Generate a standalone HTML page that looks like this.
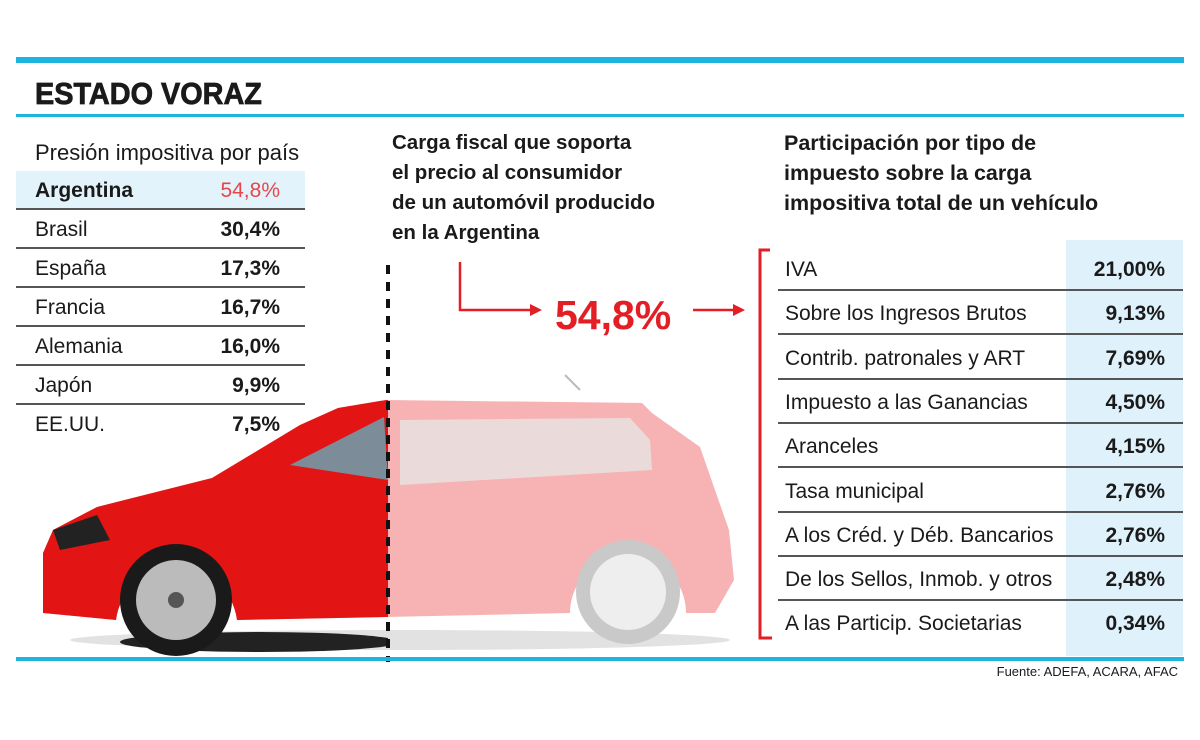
<!DOCTYPE html>
<html><head><meta charset="utf-8">
<style>
html,body{margin:0;padding:0;background:#fff;}
body{width:1200px;height:740px;position:relative;overflow:hidden;font-family:"Liberation Sans",sans-serif;color:#1a1a1a;}
.abs{position:absolute;}
.row{position:absolute;left:16px;width:289px;height:39px;border-bottom:2px solid #555;box-sizing:border-box;font-size:21px;}
.row .lab{position:absolute;left:19px;top:8px;}
.row .val{position:absolute;right:25px;top:8px;font-weight:bold;}
.rrow{position:absolute;left:778px;width:405px;height:44px;box-sizing:border-box;font-size:21px;}
.rrow .lab{position:absolute;left:7px;top:11px;white-space:nowrap;}
.rrow .val{position:absolute;right:18px;top:11px;font-weight:bold;}
.mid{font-weight:bold;font-size:20.5px;line-height:30px;}
</style></head><body>
<div class="abs" style="left:16px;top:57px;width:1168px;height:6px;background:#1cb4e0"></div>
<div class="abs" style="left:35px;top:76px;font-size:31px;font-weight:bold;transform:scaleX(0.93);transform-origin:left;-webkit-text-stroke:0.8px #1a1a1a">ESTADO VORAZ</div>
<div class="abs" style="left:16px;top:114px;width:1168px;height:3px;background:#1cb4e0"></div>

<div class="abs" style="left:35px;top:140px;font-size:22px">Presión impositiva por país</div>
<div id="lt"></div>

<svg class="abs" style="left:0;top:0" width="1200" height="740">
 <defs>
  <clipPath id="cl"><rect x="0" y="0" width="388" height="740"/></clipPath>
  <path id="body" d="M43,613 L43,553 L53,530 L97,507 L212,478 L300,425 L338,408 L386,400 L642,403 L652,413 L700,447 L715,490 L729,530 L734,580 L715,613 L686,613 A58,58 0 0 0 570,613 L386,617 L237,620 A61,61 0 0 0 116,620 Z"/>
 </defs>
 <ellipse cx="400" cy="640" rx="330" ry="10" fill="#e2e2e2"/>
 <ellipse cx="260" cy="642" rx="140" ry="10" fill="#222" clip-path="url(#cl)"/>
 <use href="#body" fill="#f7b3b3"/>
 <path d="M400,420 L630,418 L650,440 L652,470 L400,485 Z" fill="#ebdada"/>
 <line x1="580" y1="390" x2="565" y2="375" stroke="#bbb" stroke-width="2"/>
 <circle cx="628" cy="592" r="52" fill="#c9c9c9"/><circle cx="628" cy="592" r="38" fill="#eee"/>
 <g clip-path="url(#cl)">
  <use href="#body" fill="#e31414"/>
  <path d="M290,465 L384,417 L388,480 Z" fill="#7c8d99"/>
  <path d="M53,530 L97,515 L110,540 L60,550 Z" fill="#222"/>
 </g>
 <circle cx="176" cy="600" r="56" fill="#1a1a1a"/><circle cx="176" cy="600" r="40" fill="#bbb"/><circle cx="176" cy="600" r="8" fill="#555"/>
 <line x1="388" y1="265" x2="388" y2="662" stroke="#111" stroke-width="4" stroke-dasharray="9,8"/>
 <path d="M460,262 L460,310 L535,310" fill="none" stroke="#e31e24" stroke-width="2.5"/>
 <path d="M530,304 L542,310 L530,316 Z" fill="#e31e24"/>
 <path d="M693,310 L738,310" stroke="#e31e24" stroke-width="2.5"/>
 <path d="M733,304 L745,310 L733,316 Z" fill="#e31e24"/>
 <path d="M770,250 L760,250 L760,638 L772,638" fill="none" stroke="#e31e24" stroke-width="3"/>
</svg>

<div class="abs mid" style="left:392px;top:128px">Carga fiscal que soporta<br>el precio al consumidor<br>de un automóvil producido<br>en la Argentina</div>
<div class="abs" style="left:555px;top:292px;font-size:41px;font-weight:bold;color:#e31e24">54,8%</div>

<div class="abs mid" style="left:784px;top:128px;font-size:21.5px">Participación por tipo de<br>impuesto sobre la carga<br>impositiva total de un vehículo</div>
<div class="abs" style="left:1066px;top:240px;width:117px;height:416px;background:#dff1fa"></div>
<div id="rt"></div>

<div class="abs" style="left:16px;top:657px;width:1168px;height:4px;background:#1cb4e0"></div>
<div class="abs" style="right:22px;top:664px;font-size:13px">Fuente: ADEFA, ACARA, AFAC</div>

<script>
const countries=["Argentina","Brasil","España","Francia","Alemania","Japón","EE.UU."];
const countryValues=[54.8,30.4,17.3,16.7,16.0,9.9,7.5];
const taxes=["IVA","Sobre los Ingresos Brutos","Contrib. patronales y ART","Impuesto a las Ganancias","Aranceles","Tasa municipal","A los Créd. y Déb. Bancarios","De los Sellos, Inmob. y otros","A las Particip. Societarias"];
const taxValues=[21.00,9.13,7.69,4.50,4.15,2.76,2.76,2.48,0.34];
function fmt(v,d){return v.toFixed(d).replace('.',',')+'%';}
const lt=document.getElementById('lt');
countries.forEach((c,i)=>{
  const r=document.createElement('div');
  
  
  r.className='row';
  r.style.top=(171+i*39)+'px';
  if(i===0){r.style.background='#e3f3fb';}
  if(i===countries.length-1){r.style.borderBottom='none';}
  const l=document.createElement('span');l.className='lab';l.textContent=c;
  
  
  if(i===0)l.style.fontWeight='bold';
  const v=document.createElement('span');v.className='val';v.textContent=fmt(countryValues[i],1);
  
  
  if(i===0){v.style.color='#e8454a';v.style.fontWeight='normal';}
  r.appendChild(l);r.appendChild(v);lt.appendChild(r);
});
const rt=document.getElementById('rt');
taxes.forEach((t,i)=>{
  const r=document.createElement('div');
  
  
  r.className='rrow';
  r.style.top=(247+i*44.3)+'px';
  if(i<taxes.length-1)r.style.borderBottom='2px solid #555';
  const l=document.createElement('span');l.className='lab';l.textContent=t;
  
  
  const v=document.createElement('span');v.className='val';v.textContent=fmt(taxValues[i],2);
  
  
  r.appendChild(l);r.appendChild(v);rt.appendChild(r);
});
</script>
</body></html>
